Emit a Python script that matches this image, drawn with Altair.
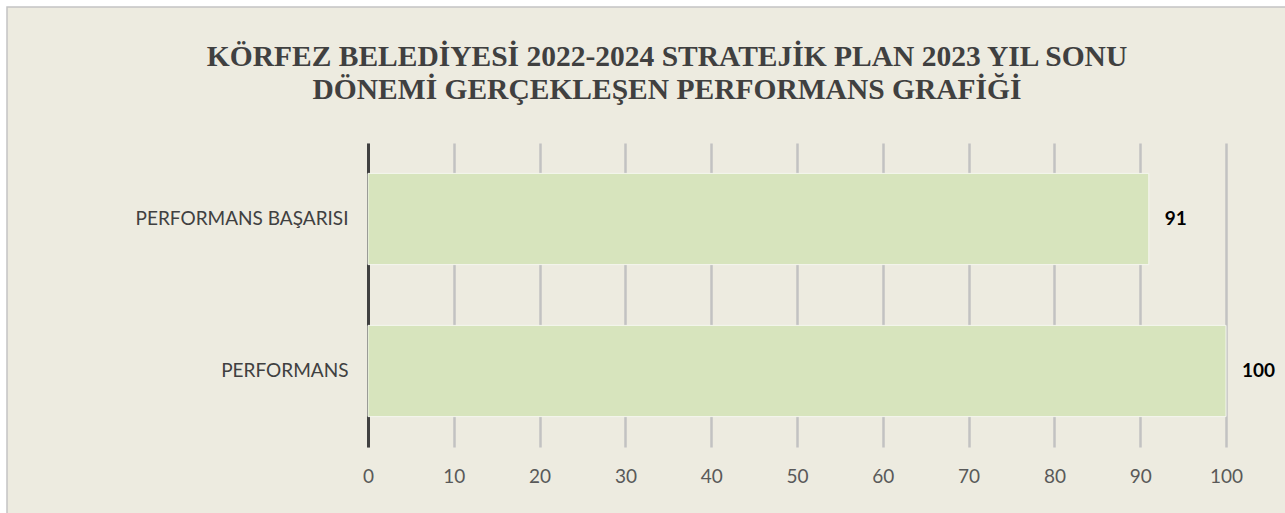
import altair as alt
import pandas as pd

categories = ["PERFORMANS BAŞARISI", "PERFORMANS"]
values = [91, 100]
x_ticks = [0, 10, 20, 30, 40, 50, 60, 70, 80, 90, 100]
title_lines = ["KÖRFEZ BELEDİYESİ 2022-2024 STRATEJİK PLAN 2023 YIL SONU",
               "DÖNEMİ GERÇEKLEŞEN PERFORMANS GRAFİĞİ"]

df = pd.DataFrame({"kategori": categories, "deger": values})

W, H = 858, 304
PL, PT = 368, 143

margin = alt.Chart(alt.Data(values=[{}])).mark_rect(
    fill="transparent", stroke="#FFFFFF", strokeWidth=14
).encode(
    x=alt.value(-PL), x2=alt.value(1285 - PL + 20),
    y=alt.value(-PT), y2=alt.value(513 - PT + 20),
)
frame = alt.Chart(alt.Data(values=[{}])).mark_rect(
    fill="transparent", stroke="#C4C4C4", strokeWidth=1.5
).encode(
    x=alt.value(7 - PL), x2=alt.value(1285 - PL + 10),
    y=alt.value(7 - PT), y2=alt.value(513 - PT + 10),
)

xscale = alt.Scale(domain=[0, 100], nice=False)
yscale = alt.Scale(paddingInner=0.4, paddingOuter=0.2)

x_enc = alt.X("deger:Q", scale=xscale, axis=alt.Axis(
    values=x_ticks, grid=True, gridColor="#C2C2C2", gridWidth=2.5,
    domain=False, ticks=False, labelFont="Lato", labelFontSize=19,
    labelColor="#595959", labelPadding=20, title=None, labelFlush=False))
y_enc = alt.Y("kategori:N", sort=categories, scale=yscale, axis=alt.Axis(
    domain=True, domainColor="#404040", domainWidth=3, ticks=False,
    labelFont="Lato", labelFontSize=19, labelColor="#404040",
    labelPadding=20, title=None, grid=False, labelLimit=400))

bars = alt.Chart(df).mark_bar(
    fill="#D7E4BD", stroke="#F4F6EE", strokeWidth=1
).encode(x=x_enc, y=y_enc)

labels = alt.Chart(df).mark_text(
    align="left", baseline="middle", dx=16, font="Lato", fontSize=19,
    fontWeight="bold", color="#000000"
).encode(
    x=alt.X("deger:Q", scale=xscale),
    y=alt.Y("kategori:N", sort=categories, scale=yscale),
    text="deger:Q",
)

chart = alt.layer(margin, frame, bars, labels).properties(
    width=W, height=H,
    background="#EDEBE0",
    autosize=alt.AutoSizeParams(type="none"),
    padding={"left": PL, "top": PT, "right": 1285 - PL - W, "bottom": 513 - PT - H},
    title=alt.TitleParams(
        text=title_lines, font="Liberation Serif", fontSize=29.5, fontWeight="bold",
        color="#404040", anchor="middle", dx=-130, offset=0, dy=112, lineHeight=33,
    ),
).configure_view(stroke=None)

chart.save("out.html", embed_options={"renderer": "svg", "actions": False})
